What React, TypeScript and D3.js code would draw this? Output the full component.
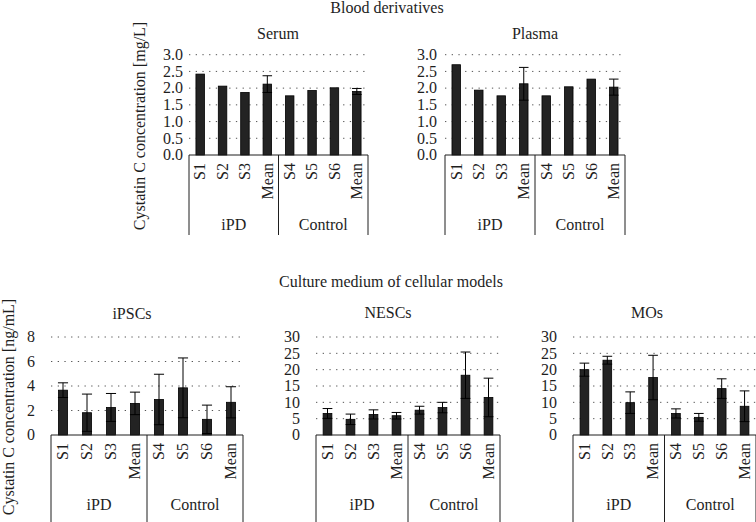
import React from 'react';
import * as d3 from 'd3';

// categories along each x axis
const categories = ['S1', 'S2', 'S3', 'Mean', 'S4', 'S5', 'S6', 'Mean'];
const groups = ['iPD', 'Control'];

// blood derivatives [mg/L]
const serumValues = [2.42, 2.06, 1.87, 2.12, 1.77, 1.93, 2.01, 1.9];
const serumErrors = [0, 0, 0, 0.25, 0, 0, 0, 0.09];
const plasmaValues = [2.7, 1.94, 1.77, 2.13, 1.77, 2.04, 2.27, 2.03];
const plasmaErrors = [0, 0, 0, 0.49, 0, 0, 0, 0.24];

// culture medium [ng/mL]
const ipscValues = [3.66, 1.82, 2.25, 2.58, 2.9, 3.85, 1.28, 2.67];
const ipscErrors = [0.6, 1.52, 1.14, 0.92, 2.06, 2.44, 1.16, 1.27];
const nescValues = [6.6, 4.8, 6.3, 5.9, 7.6, 8.4, 18.3, 11.5];
const nescErrors = [1.5, 1.6, 1.4, 1.0, 1.2, 1.6, 7.1, 5.9];
const moValues = [20.0, 22.9, 9.9, 17.6, 6.6, 5.4, 14.2, 8.8];
const moErrors = [2.0, 1.2, 3.3, 6.8, 1.4, 1.2, 3.0, 4.7];

const bloodTicks = [0, 0.5, 1, 1.5, 2, 2.5, 3];
const ipscTicks = [0, 2, 4, 6, 8];
const cultureTicks = [0, 5, 10, 15, 20, 25, 30];

const FONT = "'Times New Roman', Times, Tinos, 'Noto Serif', FreeSerif, 'Liberation Serif', serif";
const INK = '#1e1e1e';

interface PanelProps {
  title: string;
  titleX: number;
  titleY: number;
  x0: number;
  x1: number;
  yTop: number;
  yBottom: number;
  ticks: number[];
  fmt: (v: number) => string;
  values: number[];
  errors: number[];
  labelGap: number;
  boxDepth: number;
}

const Panel: React.FC<PanelProps> = (p) => {
  const x = d3.scaleBand<number>()
    .domain(categories.map((_, i) => i))
    .range([p.x0, p.x1])
    .paddingInner(0.62)
    .paddingOuter(0.31);
  const y = d3.scaleLinear()
    .domain([0, p.ticks[p.ticks.length - 1]])
    .range([p.yBottom, p.yTop]);
  const bw = x.bandwidth();
  const mid = (p.x0 + p.x1) / 2;

  return (
    <g>
      <text x={p.titleX} y={p.titleY} textAnchor="middle" fontSize={16}>{p.title}</text>
      {/* dotted gridlines */}
      {p.ticks.filter(t => t > 0).map(t => (
        <line key={'g' + t} x1={p.x0} x2={p.x1} y1={y(t)} y2={y(t)}
          stroke="#555" strokeWidth={1} strokeDasharray="1.3 5.4" />
      ))}
      {p.ticks.map(t => (
        <text key={'t' + t} x={p.x0 - p.labelGap} y={y(t)} dy="0.33em"
          textAnchor="end" fontSize={16}>{p.fmt(t)}</text>
      ))}
      {/* bars */}
      {p.values.map((v, i) => (
        <rect key={'b' + i} x={x(i)} y={y(v)} width={bw} height={y(0) - y(v)}
          fill="#232323" stroke="#000" strokeWidth={0.8} />
      ))}
      {/* error bars */}
      {p.errors.map((e, i) => {
        if (!e) return null;
        const cx = (x(i) as number) + bw / 2;
        const v = p.values[i];
        const hw = bw / 2 + 0.5;
        return (
          <g key={'e' + i} stroke="#000" strokeWidth={1}>
            <line x1={cx} x2={cx} y1={y(v + e)} y2={y(Math.max(0, v - e))} />
            <line x1={cx - hw} x2={cx + hw} y1={y(v + e)} y2={y(v + e)} />
            <line x1={cx - hw} x2={cx + hw} y1={y(v - e)} y2={y(v - e)} />
          </g>
        );
      })}
      {/* category axis box */}
      <line x1={p.x0} x2={p.x1} y1={p.yBottom} y2={p.yBottom} stroke={INK} strokeWidth={1} />
      {[p.x0, mid, p.x1].map((lx, i) => (
        <line key={'v' + i} x1={lx} x2={lx} y1={p.yBottom} y2={p.yBottom + p.boxDepth}
          stroke={INK} strokeWidth={1} />
      ))}
      {categories.map((c, i) => {
        const cx = (x(i) as number) + bw / 2;
        return (
          <text key={'c' + i} transform={`translate(${cx},${p.yBottom + 8}) rotate(-90)`}
            dy="0.33em" textAnchor="end" fontSize={16}>{c}</text>
        );
      })}
      {groups.map((g, i) => (
        <text key={'gr' + i} x={i === 0 ? (p.x0 + mid) / 2 : (mid + p.x1) / 2}
          y={p.yBottom + 75} textAnchor="middle" fontSize={16}>{g}</text>
      ))}
    </g>
  );
};

const f1 = (v: number) => d3.format('.1f')(v);
const f0 = (v: number) => d3.format('d')(v);

export default function App() {
  return (
    <svg width={756} height={522}
      style={{ position: 'absolute', left: 0, top: 0, background: '#fff', fontFamily: FONT }}
      fill={INK}>
      <text x={387} y={13} textAnchor="middle" fontSize={16}>Blood derivatives</text>
      <text transform="translate(145,126) rotate(-90)" textAnchor="middle" fontSize={16}>
        Cystatin C concentration [mg/L]
      </text>
      <Panel title="Serum" titleX={278} titleY={39} x0={189} x1={368} yTop={54.7} yBottom={155}
        ticks={bloodTicks} fmt={f1} values={serumValues} errors={serumErrors} labelGap={6} boxDepth={80} />
      <Panel title="Plasma" titleX={535} titleY={39} x0={445} x1={625} yTop={54.7} yBottom={155}
        ticks={bloodTicks} fmt={f1} values={plasmaValues} errors={plasmaErrors} labelGap={8} boxDepth={80} />

      <text x={391} y={287} textAnchor="middle" fontSize={16}>Culture medium of cellular models</text>
      <text transform="translate(14,407) rotate(-90)" textAnchor="middle" fontSize={16}>
        Cystatin C concentration [ng/mL]
      </text>
      <Panel title="iPSCs" titleX={132} titleY={319} x0={51} x1={243} yTop={337} yBottom={435}
        ticks={ipscTicks} fmt={f0} values={ipscValues} errors={ipscErrors} labelGap={16} boxDepth={92} />
      <Panel title="NESCs" titleX={388} titleY={318} x0={316} x1={500} yTop={337} yBottom={435}
        ticks={cultureTicks} fmt={f0} values={nescValues} errors={nescErrors} labelGap={16} boxDepth={92} />
      <Panel title="MOs" titleX={647} titleY={318} x0={573} x1={756} yTop={337} yBottom={435}
        ticks={cultureTicks} fmt={f0} values={moValues} errors={moErrors} labelGap={16} boxDepth={92} />
    </svg>
  );
}
